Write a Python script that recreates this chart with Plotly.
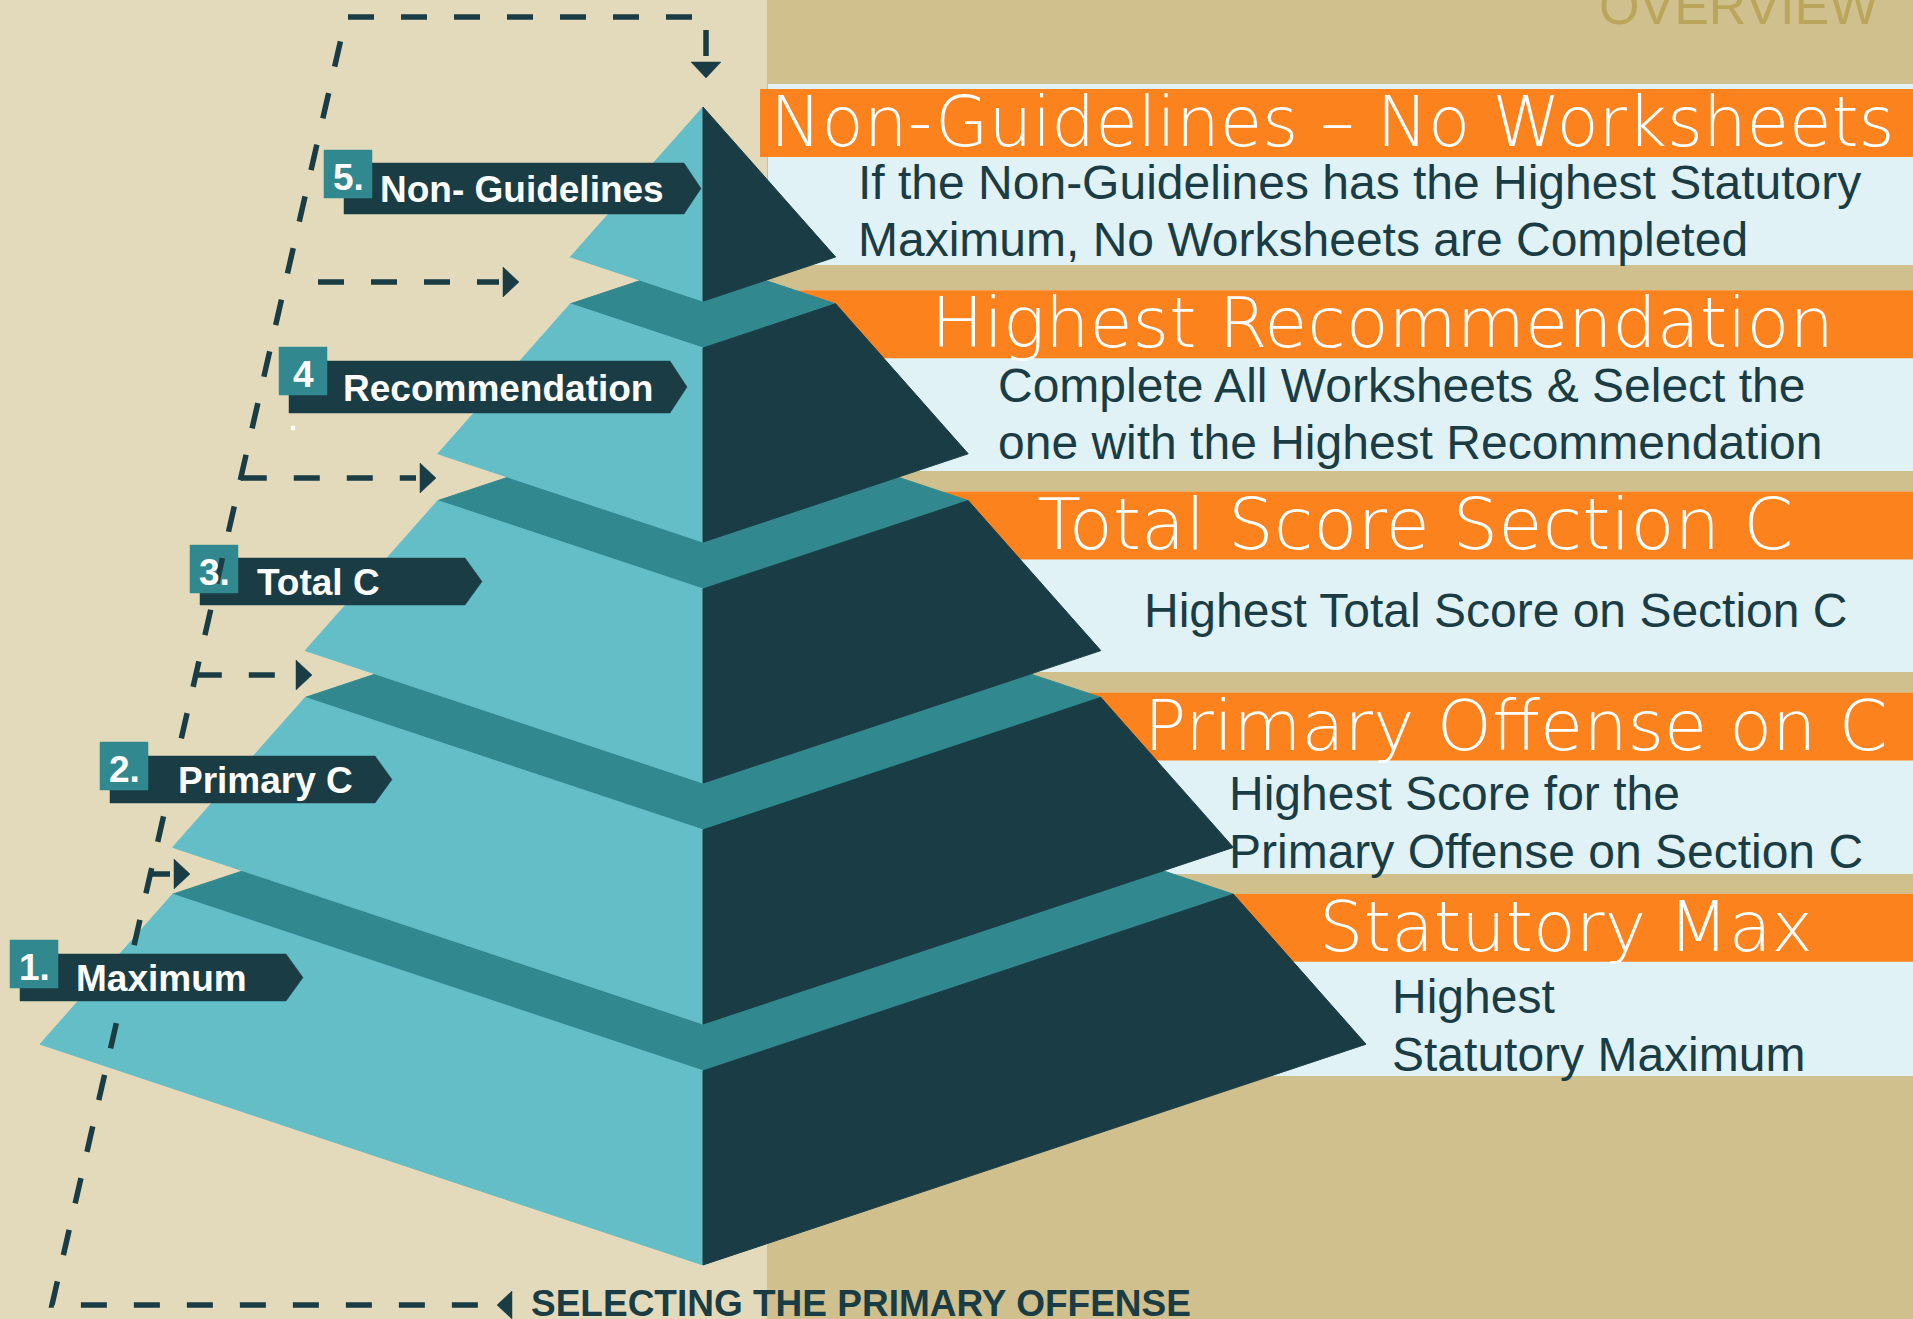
import plotly.graph_objects as go

# ---------------- data ----------------
tier_numbers = ["5.", "4", "3.", "2.", "1."]                      # top -> bottom
tier_labels = ["Non- Guidelines", "Recommendation", "Total C", "Primary C", "Maximum"]
headers = ["Non-Guidelines – No Worksheets", "Highest Recommendation",
           "Total Score Section C", "Primary Offense on C", "Statutory Max"]
desc_line1 = ["If the Non-Guidelines has the Highest Statutory",
              "Complete All Worksheets & Select the",
              "Highest Total Score on Section C",
              "Highest Score for the",
              "Highest"]
desc_line2 = ["Maximum, No Worksheets are Completed",
              "one with the Highest Recommendation",
              "",
              "Primary Offense on Section C",
              "Statutory Maximum"]
footer_text = "SELECTING THE PRIMARY OFFENSE"
corner_text = "OVERVIEW"

# ---------------- style / layout ----------------
W, H = 1913, 1319
LEFT_BG = "#E3DABB"
RIGHT_BG = "#CFC08D"
PANEL = "#E0F2F5"
ORANGE = "#FC821E"
LIGHT_FACE = "#64BEC8"
DARK_FACE = "#1A3D45"
BAND = "#32888F"
CORNER_C = "#B9A65A"
SPLIT_X = 767

# pyramid geometry
CX, STEP, BASE0, PITCH, TIER_H, DEPTH = 703.0, 132.6, 257.0, 196.8, 150.0, 0.333

# right panels (top -> bottom)
ORANGE_TOP0, PANEL_PITCH, ORANGE_H = 89.0, 201.2, 68.0
panel_bottom = [265, 471, 672, 874, 1076]
header_x = [768, 929, 1035, 1142, 1317]
header_size = [69, 70, 72, 70, 70]
desc_x = [856, 996, 1142, 1227, 1390]
desc_off = [93, 95, 119, 101, 103]
LINE_GAP = 57.5

# left labels (top -> bottom)
ban_x0 = [344, 289, 200, 110, 20]
ban_x1 = [684, 670, 465, 375, 286]
ban_y0 = [163, 361, 558, 756, 954]
ban_h = [51, 52, 47, 47, 47]
sq_x0 = [324, 279, 190, 100, 10]
sq_y0 = [150, 347, 545, 742, 940]
SQ = 48
lab_x = [378, 341, 255, 176, 74]

fig = go.Figure()


def poly(pts, color, lw=1.0):
    xs = [p[0] for p in pts] + [pts[0][0]]
    ys = [p[1] for p in pts] + [pts[0][1]]
    fig.add_trace(go.Scatter(x=xs, y=ys, mode="lines", fill="toself",
                             fillcolor=color, line=dict(color=color, width=lw),
                             hoverinfo="skip", showlegend=False))


def dashed(pts):
    fig.add_trace(go.Scatter(x=[p[0] for p in pts], y=[p[1] for p in pts],
                             mode="lines",
                             line=dict(color=DARK_FACE, width=5.5, dash="26px,27px"),
                             hoverinfo="skip", showlegend=False))


shapes = [
    dict(type="rect", x0=0, x1=SPLIT_X, y0=0, y1=H, fillcolor=LEFT_BG, line_width=0, layer="below"),
    dict(type="rect", x0=SPLIT_X, x1=W, y0=0, y1=H, fillcolor=RIGHT_BG, line_width=0, layer="below"),
]
for p in range(5):
    ot = ORANGE_TOP0 + PANEL_PITCH * p
    ptop = ot - 5 if p == 0 else ot
    shapes.append(dict(type="rect", x0=SPLIT_X + 1, x1=W, y0=ptop, y1=panel_bottom[p],
                       fillcolor=PANEL, line_width=0, layer="below"))
    shapes.append(dict(type="rect", x0=(760 if p == 0 else SPLIT_X + 1), x1=W, y0=ot, y1=ot + ORANGE_H,
                       fillcolor=ORANGE, line_width=0, layer="below"))

# ---------------- pyramid (bottom tier first) ----------------
for k in range(5, 0, -1):
    hb = STEP * k
    yb = BASE0 + PITCH * (k - 1)
    ht = STEP * (k - 1)
    yt = yb - TIER_H
    db, dt = DEPTH * hb, DEPTH * ht
    if k > 1:
        poly([(CX - ht, yt), (CX, yt - dt), (CX + ht, yt), (CX, yt + dt)], BAND)
    poly([(CX - ht, yt), (CX, yt + dt), (CX, yb + db), (CX - hb, yb)], LIGHT_FACE)
    poly([(CX + ht, yt), (CX, yt + dt), (CX, yb + db), (CX + hb, yb)], DARK_FACE)

# ---------------- labels: banners, then number squares on top ----------------
for i in range(5):
    y0, y1 = ban_y0[i], ban_y0[i] + ban_h[i]
    poly([(ban_x0[i], y0), (ban_x1[i], y0), (ban_x1[i] + 17, (y0 + y1) / 2),
          (ban_x1[i], y1), (ban_x0[i], y1)], DARK_FACE, lw=0.5)
    poly([(sq_x0[i], sq_y0[i]), (sq_x0[i] + SQ, sq_y0[i]), (sq_x0[i] + SQ, sq_y0[i] + SQ),
          (sq_x0[i], sq_y0[i] + SQ)], BAND, lw=0.5)

# tiny white speck under label 4
poly([(291, 426), (295, 426), (295, 430), (291, 430)], "#FFFFFF", lw=0.3)

# ---------------- dashed flow lines ----------------
TOP_Y, BOT_Y = 17, 1305
TL_X, BL_X, TR_X = 346, 52, 706


def slant_x(y):
    return TL_X + (BL_X - TL_X) * (y - TOP_Y) / (BOT_Y - TOP_Y)


dashed([(TR_X, 56), (TR_X, TOP_Y), (TL_X, TOP_Y), (BL_X, BOT_Y), (500, BOT_Y)])
poly([(TR_X - 15, 62), (TR_X + 15, 62), (TR_X, 78)], DARK_FACE, lw=0.5)
poly([(512, BOT_Y - 14), (512, BOT_Y + 14), (497, BOT_Y)], DARK_FACE, lw=0.5)

arrow_y = [282, 478, 675, 874]
arrow_base = [503, 420, 296, 174]
arrow_start = [318, None, None, None]
for j in range(4):
    ys = arrow_y[j]
    xs0 = arrow_start[j] if arrow_start[j] is not None else slant_x(ys)
    dashed([(xs0, ys), (arrow_base[j] - 4, ys)])
    poly([(arrow_base[j], ys - 15), (arrow_base[j] + 16, ys), (arrow_base[j], ys + 15)], DARK_FACE, lw=0.5)

# ---------------- text ----------------
ann = []
SANS = "Liberation Sans, Arial, sans-serif"
for p in range(5):
    ot = ORANGE_TOP0 + PANEL_PITCH * p
    ann.append(dict(x=header_x[p], y=ot + ORANGE_H / 2 - 1, text=headers[p], xanchor="left",
                    yanchor="middle", showarrow=False,
                    font=dict(family="DejaVu Sans, sans-serif", size=header_size[p],
                              color="#FFFFFF", weight=200)))
    ann.append(dict(x=desc_x[p], y=ot + desc_off[p], text=desc_line1[p], xanchor="left",
                    yanchor="middle", showarrow=False,
                    font=dict(family=SANS, size=48, color=DARK_FACE)))
    if desc_line2[p]:
        ann.append(dict(x=desc_x[p], y=ot + desc_off[p] + LINE_GAP, text=desc_line2[p], xanchor="left",
                        yanchor="middle", showarrow=False,
                        font=dict(family=SANS, size=48, color=DARK_FACE)))

for i in range(5):
    ann.append(dict(x=sq_x0[i] + SQ / 2, y=sq_y0[i] + SQ / 2 + 3, text=tier_numbers[i],
                    xanchor="center", yanchor="middle", showarrow=False,
                    font=dict(family=SANS, size=37, color="#FFFFFF", weight="bold")))
    ann.append(dict(x=lab_x[i], y=ban_y0[i] + ban_h[i] / 2 + 1, text=tier_labels[i],
                    xanchor="left", yanchor="middle", showarrow=False,
                    font=dict(family=SANS, size=37, color="#FFFFFF", weight="bold")))

ann.append(dict(x=529, y=BOT_Y - 2, text=footer_text, xanchor="left", yanchor="middle",
                showarrow=False, font=dict(family=SANS, size=37, color=DARK_FACE, weight="bold")))
ann.append(dict(x=1597, y=6, text=corner_text, xanchor="left", yanchor="middle",
                showarrow=False, font=dict(family=SANS, size=52, color=CORNER_C)))

fig.update_layout(
    width=W, height=H, autosize=False,
    margin=dict(l=0, r=0, t=0, b=0, pad=0),
    paper_bgcolor=LEFT_BG, plot_bgcolor=LEFT_BG,
    xaxis=dict(range=[0, W], visible=False, fixedrange=True, showgrid=False, zeroline=False),
    yaxis=dict(range=[H, 0], visible=False, fixedrange=True, showgrid=False, zeroline=False),
    shapes=shapes, annotations=ann, showlegend=False,
)

fig.write_html("out.html", config={"displayModeBar": False},
               post_script="document.body.style.margin='0';document.body.style.overflow='hidden';")
